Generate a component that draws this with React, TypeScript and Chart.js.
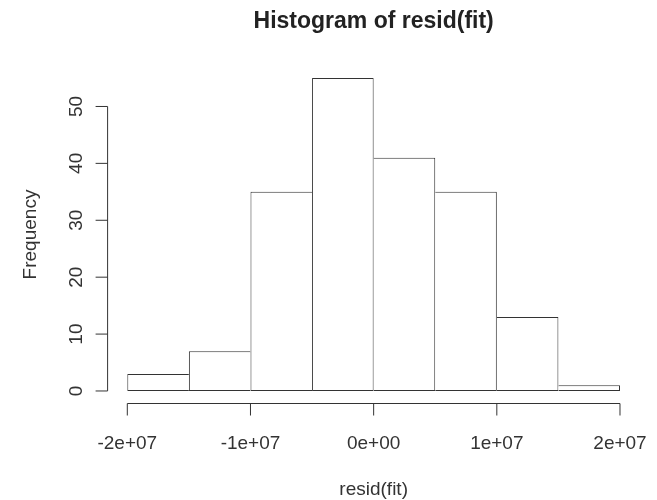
import React, { useEffect, useRef } from "react";
import { Chart, registerables } from "chart.js";

Chart.register(...registerables);

// ---- data ----
const binEdges = [-2e7, -1.5e7, -1e7, -5e6, 0, 5e6, 1e7, 1.5e7, 2e7];
const counts = [3, 7, 35, 55, 41, 35, 13, 1];
const xTicks = [-2e7, -1e7, 0, 1e7, 2e7];
const xTickLabels = ["-2e+07", "-1e+07", "0e+00", "1e+07", "2e+07"];
const yTicks = [0, 10, 20, 30, 40, 50];
const yTickLabels = ["0", "10", "20", "30", "40", "50"];
const titleText = "Histogram of resid(fit)";
const xTitle = "resid(fit)";
const yTitle = "Frequency";

const FONT = "'Liberation Sans', Arial, sans-serif";
const LINE = "#333";
const TEXT = "#333";

const rAxesPlugin = {
  id: "rAxes",
  afterDraw(chart: any) {
    const ctx = chart.ctx as CanvasRenderingContext2D;
    const xs = chart.scales.x;
    const ys = chart.scales.y;
    const area = chart.chartArea;
    const tick = 12;
    ctx.save();
    ctx.strokeStyle = LINE;
    ctx.lineWidth = 1;

    // y axis
    const yx = area.left;
    ctx.beginPath();
    ctx.moveTo(yx, ys.getPixelForValue(yTicks[0]));
    ctx.lineTo(yx, ys.getPixelForValue(yTicks[yTicks.length - 1]));
    yTicks.forEach((v) => {
      const py = ys.getPixelForValue(v);
      ctx.moveTo(yx - tick, py);
      ctx.lineTo(yx, py);
    });
    ctx.stroke();

    // x axis
    const xy = area.bottom;
    ctx.beginPath();
    ctx.moveTo(xs.getPixelForValue(xTicks[0]), xy);
    ctx.lineTo(xs.getPixelForValue(xTicks[xTicks.length - 1]), xy);
    xTicks.forEach((v) => {
      const px = xs.getPixelForValue(v);
      ctx.moveTo(px, xy);
      ctx.lineTo(px, xy + tick);
    });
    ctx.stroke();

    ctx.fillStyle = TEXT;
    ctx.font = `19px ${FONT}`;
    ctx.textAlign = "center";
    ctx.textBaseline = "alphabetic";
    xTicks.forEach((v, i) => {
      ctx.fillText(xTickLabels[i], xs.getPixelForValue(v), xy + 45.5);
    });

    yTicks.forEach((v, i) => {
      ctx.save();
      ctx.translate(yx - 25.6, ys.getPixelForValue(v));
      ctx.rotate(-Math.PI / 2);
      ctx.fillText(yTickLabels[i], 0, 0);
      ctx.restore();
    });

    const cx = (area.left + area.right) / 2;
    const cy = (area.top + area.bottom) / 2;
    ctx.fillText(xTitle, cx, 495);

    ctx.save();
    ctx.translate(36, cy);
    ctx.rotate(-Math.PI / 2);
    ctx.fillText(yTitle, 0, 0);
    ctx.restore();

    ctx.fillStyle = "#222";
    ctx.font = `bold 23px ${FONT}`;
    ctx.fillText(titleText, cx, 27.5);
    ctx.restore();
  },
};

export default function App() {
  const ref = useRef<HTMLCanvasElement | null>(null);

  useEffect(() => {
    if (!ref.current) return;
    const data = counts.map((c, i) => ({
      x: (binEdges[i] + binEdges[i + 1]) / 2,
      y: c,
    }));
    const chart = new Chart(ref.current, {
      type: "bar",
      data: {
        datasets: [
          {
            data,
            backgroundColor: "#ffffff",
            borderColor: LINE,
            borderSkipped: false,
            inflateAmount: 0,
            barPercentage: 1,
            categoryPercentage: 1,
            borderWidth: (ctx: any) => {
              const i = ctx.dataIndex ?? 0;
              const cur = counts[i] ?? 0;
              const prev = i > 0 ? counts[i - 1] : 0;
              const next = i < counts.length - 1 ? counts[i + 1] : 0;
              return {
                top: 1,
                bottom: 1,
                left: cur >= prev ? 1 : 0,
                right: cur > next ? 1 : 0,
              };
            },
          } as any,
        ],
      },
      options: {
        animation: false,
        responsive: false,
        maintainAspectRatio: false,
        layout: {
          padding: { left: 107.6, right: 17.3, top: 65.5, bottom: 96.5 },
        },
        plugins: {
          legend: { display: false },
          title: { display: false },
          tooltip: { enabled: false },
        },
        scales: {
          x: {
            type: "linear",
            min: -2.16e7,
            max: 2.16e7,
            display: false,
            offset: false,
          },
          y: {
            type: "linear",
            min: -2.2,
            max: 57.2,
            display: false,
          },
        },
      },
      plugins: [rAxesPlugin],
    });
    return () => chart.destroy();
  }, []);

  return (
    <div style={{ position: "fixed", left: 0, top: 0, width: 657, height: 500, background: "#fff" }}>
      <canvas ref={ref} width={657} height={500} style={{ width: 657, height: 500, display: "block" }} />
    </div>
  );
}
